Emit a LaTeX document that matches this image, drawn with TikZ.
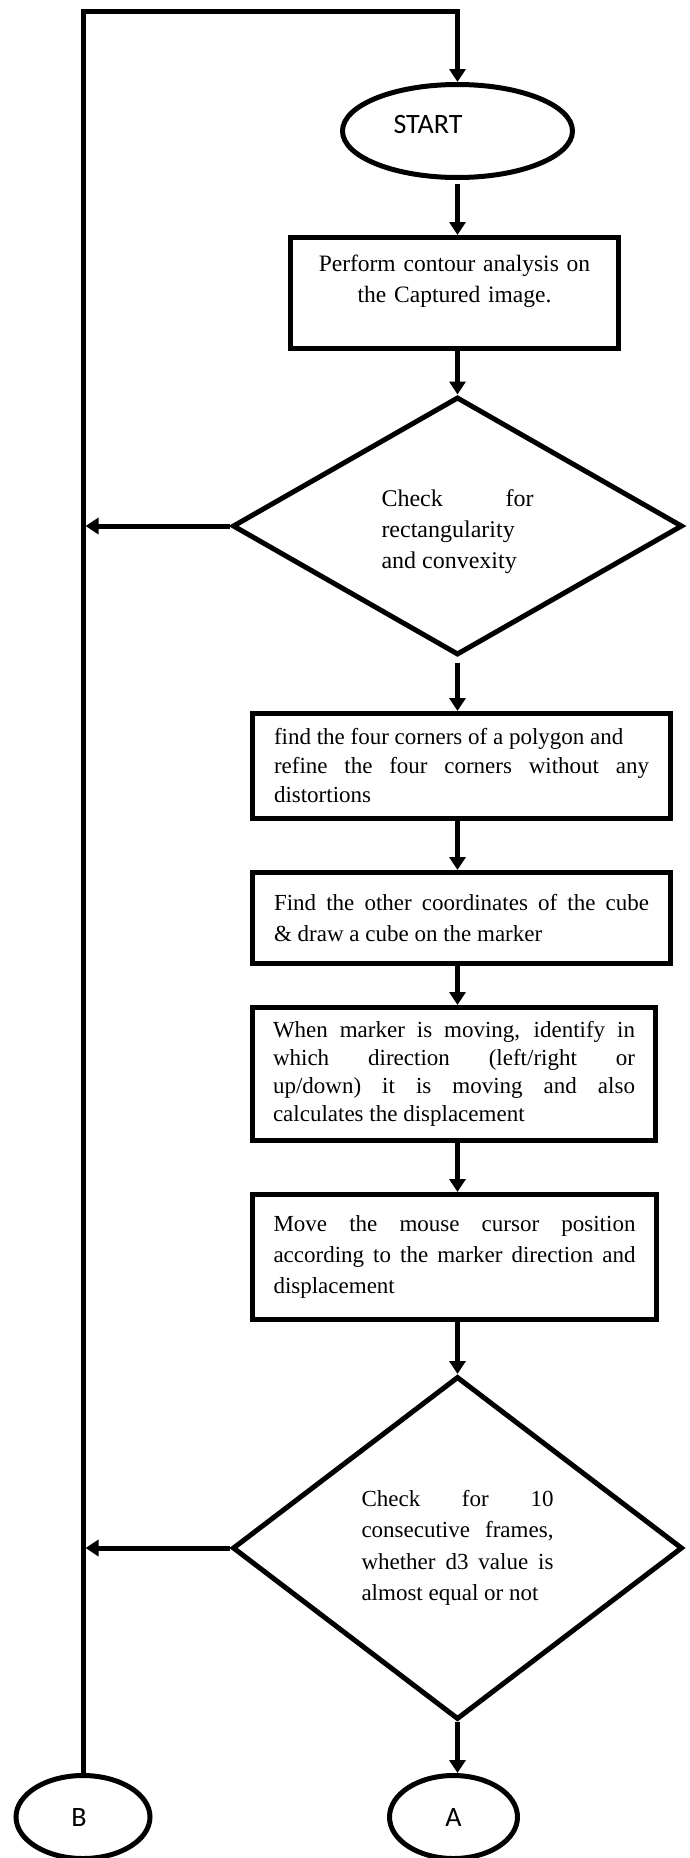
\documentclass[tikz,border=0pt]{standalone}
\usepackage{fontspec}
\setmainfont{Liberation Serif}
\newfontfamily\calib{Carlito}
\usetikzlibrary{shapes.geometric,arrows.meta}
\setlength{\parindent}{0pt}
\hyphenpenalty=10000
\exhyphenpenalty=10000
\tolerance=10000
\hbadness=10000
\begin{document}
\begin{tikzpicture}[x=1pt,y=-1pt,
  conn/.style={line width=5pt},
  arr/.style={conn,-{Triangle[width=16pt,length=13pt]}},
  term/.style={draw,ellipse,line width=5pt,inner sep=0pt,font=\calib\fontsize{28}{30}\selectfont},
  proc/.style={draw,rectangle,line width=5pt,inner sep=0pt,align=justify,font=\fontsize{23}{31}\selectfont},
  dec/.style={draw,diamond,line width=5pt,inner sep=0pt,align=justify,font=\fontsize{24}{31}\selectfont},
]
\useasboundingbox (0,0) rectangle (690,1858);
\coordinate (col) at (457.5,0);
\coordinate (top) at (0,11.5);

\node[term,minimum width=230pt,minimum height=93pt] (start) at (457.5,131)
  {\raisebox{6.5pt}[\height][\depth]{START}\hspace*{59pt}};

\node[proc,minimum width=328pt,minimum height=111pt,text width=320pt,align=center,font=\fontsize{23.5}{31}\selectfont] (b1) at (454.5,293)
  {Perform contour analysis on\\the Captured image.\rule[-28pt]{0pt}{28pt}};

\node[dec,minimum width=450pt,minimum height=258pt,text width=152pt] (d1) at (457.5,526)
  {\rule{0pt}{29pt}Check for\linebreak rectangularity\\and convexity};

\node[proc,minimum width=418pt,minimum height=105pt,text width=375pt,font=\fontsize{23}{29}\selectfont] (b2) at (461.5,766)
  {find the four corners of a polygon and\\refine the four corners without any\linebreak distortions};

\node[proc,minimum width=418pt,minimum height=91pt,text width=375pt] (b3) at (461.5,918)
  {Find the other coordinates of the cube\linebreak \& draw a cube on the marker};

\node[proc,minimum width=403pt,minimum height=133pt,text width=362pt,font=\fontsize{23}{28}\selectfont] (b4) at (454,1074)
  {When marker is moving, identify in\linebreak which direction (left/right or\linebreak up/down) it is moving and also\linebreak calculates the displacement};

\node[proc,minimum width=404pt,minimum height=125pt,text width=362pt] (b5) at (454.5,1257)
  {Move the mouse cursor position\linebreak according to the marker direction and\linebreak displacement};

\node[dec,minimum width=450pt,minimum height=343pt,text width=192pt,font=\fontsize{23}{31.5}\selectfont] (d2) at (457.5,1548)
  {Check for 10\linebreak consecutive frames,\linebreak whether d3 value is\linebreak almost equal or not};

\node[term,minimum width=128pt,minimum height=83pt] (A) at (453.5,1817) {A};
\node[term,minimum width=134pt,minimum height=83pt] (B) at (83,1817) {B\hspace*{8pt}};

% connectors
\draw[arr] (B.north) -- (B.north |- top) -| (start.north);
\draw[arr,shorten <=4pt] (start.south) -- (b1.north -| col);
\draw[arr] (b1.south -| col) -- (d1.north);
\draw[arr,shorten <=5pt] (d1.south) -- (b2.north -| col);
\draw[arr] (b2.south -| col) -- (b3.north -| col);
\draw[arr] (b3.south -| col) -- (b4.north -| col);
\draw[arr] (b4.south -| col) -- (b5.north -| col);
\draw[arr] (b5.south -| col) -- (d2.north);
\draw[arr] (d2.south) -- (A.north -| col);
\draw[arr,shorten >=2.5pt] (d1.west) -- (d1.west -| B.north);
\draw[arr,shorten >=2.5pt] (d2.west) -- (d2.west -| B.north);
\end{tikzpicture}
\end{document}
